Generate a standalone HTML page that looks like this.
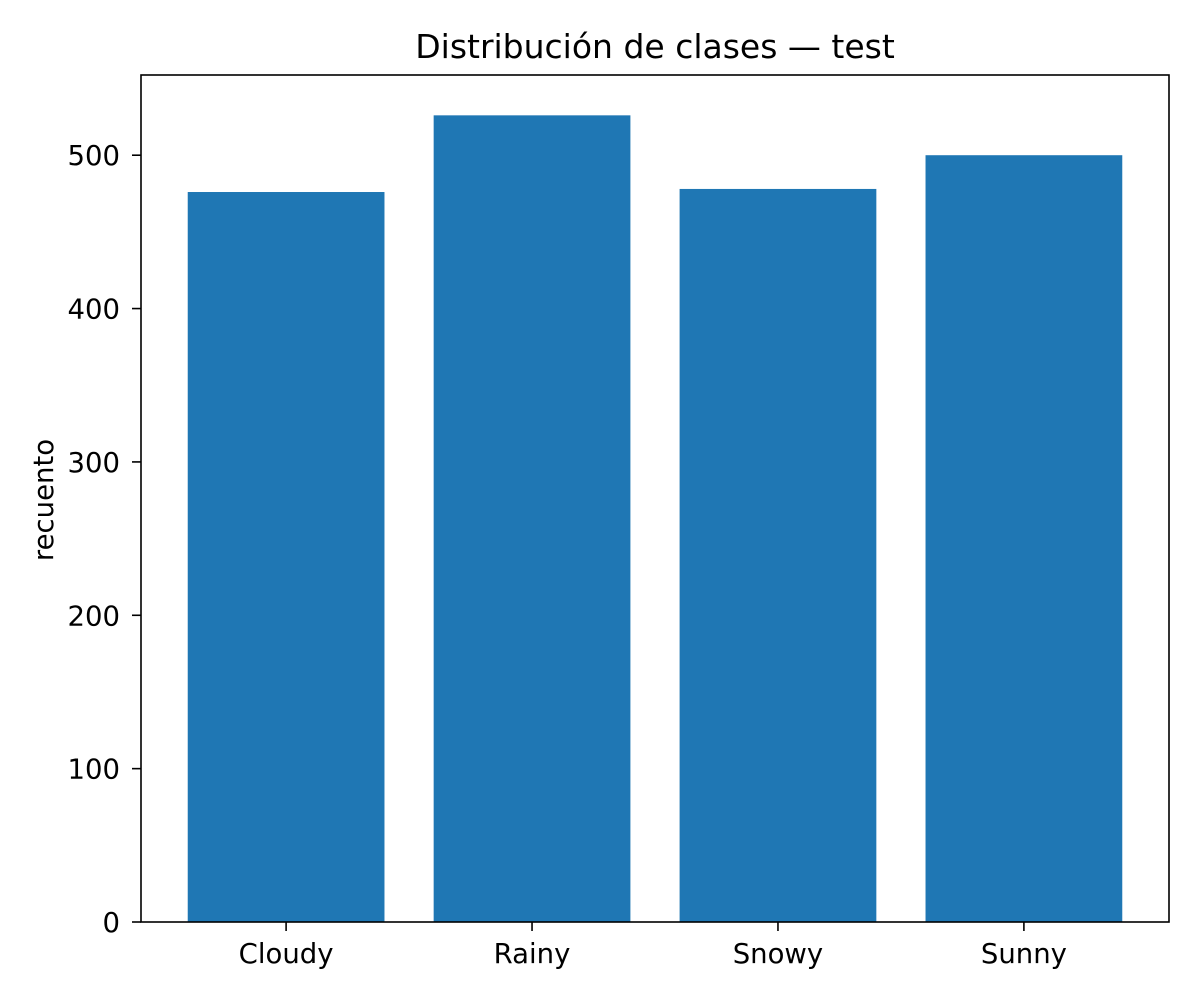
<!DOCTYPE html>
<html><head><meta charset="utf-8"><style>
body{margin:0;background:#fff;}
svg text{font-family:"DejaVu Sans","Liberation Sans",sans-serif;fill:#000;}
</style></head><body>
<svg width="1200" height="1000" xmlns="http://www.w3.org/2000/svg">
<rect width="1200" height="1000" fill="#fff"/>
<g id="plot"></g>
<text x="655" y="58" font-size="33" text-anchor="middle">Distribución de clases — test</text>
<text transform="translate(53,500) rotate(-90)" font-size="27.5" text-anchor="middle">recuento</text>
</svg>
<script>
const categories=["Cloudy","Rainy","Snowy","Sunny"];
const counts=[476,526,478,500];
const yTicks=[0,100,200,300,400,500];
const L=141,R=1169,T=75,B=922;
const yMax=Math.max(...counts)*1.05;
const xMin=-0.59,xMax=categories.length-1+0.59;
const xs=i=>L+(i-xMin)/(xMax-xMin)*(R-L);
const ys=v=>B-v/yMax*(B-T);
const ns="http://www.w3.org/2000/svg";
const g=document.getElementById('plot');
function mk(t,a){const e=document.createElementNS(ns,t);for(const k in a)e.setAttribute(k,a[k]);g.appendChild(e);return e;}
const bw=(xs(1)-xs(0))*0.8;
counts.forEach((v,i)=>{
const r=mk('rect',{x:xs(i)-bw/2,y:ys(v),width:bw,height:B-ys(v),fill:'#1f77b4'});


const tk=mk('line',{x1:xs(i),x2:xs(i),y1:B,y2:B+9,stroke:'#000','stroke-width':1.6});


const t=mk('text',{x:xs(i),y:B+41,'font-size':27.5,'text-anchor':'middle'});
t.textContent=categories[i];


});
yTicks.forEach(v=>{
const tk=mk('line',{x1:L-9,x2:L,y1:ys(v),y2:ys(v),stroke:'#000','stroke-width':1.6});


const t=mk('text',{x:L-21,y:ys(v)+10,'font-size':27.5,'text-anchor':'end'});
t.textContent=v;


});
const fr=mk('rect',{x:L,y:T,width:R-L,height:B-T,fill:'none',stroke:'#000','stroke-width':1.6});


</script>
</body></html>
